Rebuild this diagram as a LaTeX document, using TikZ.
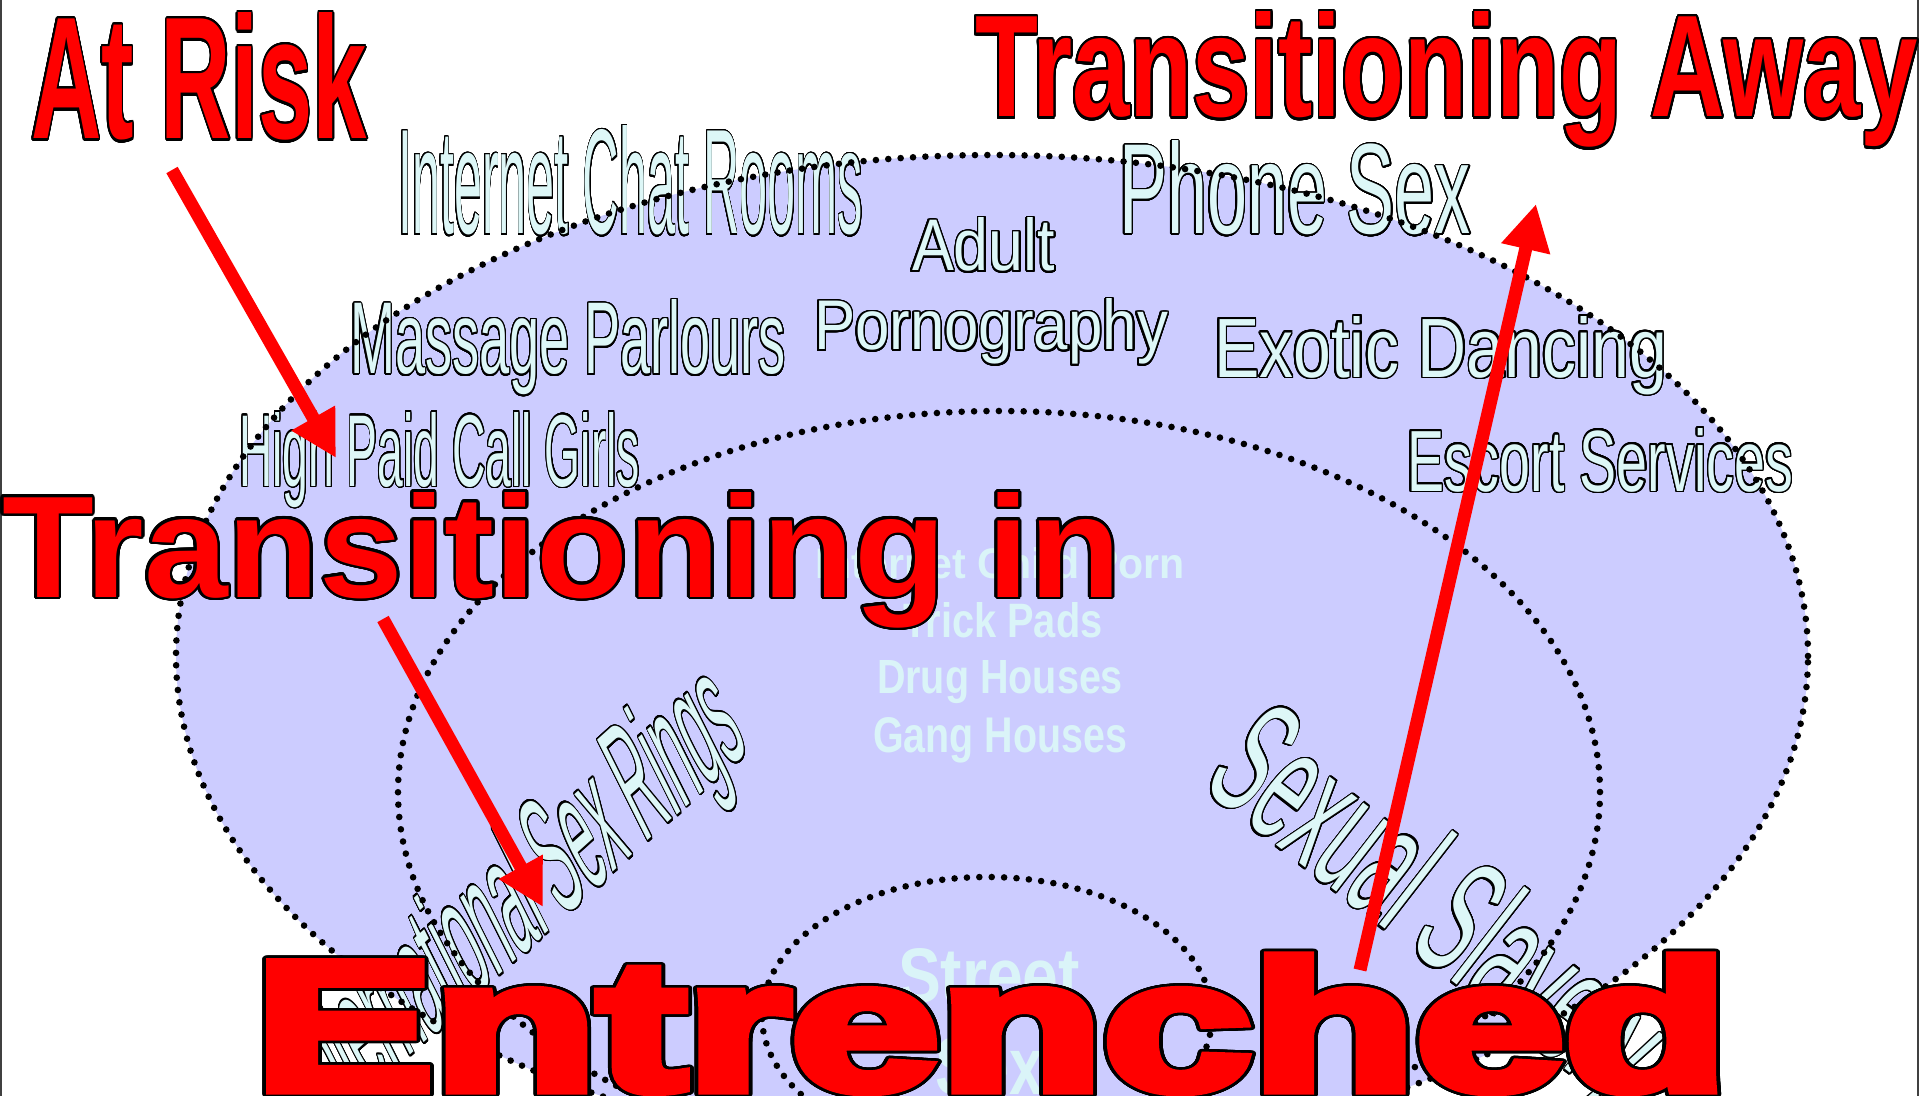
\documentclass[tikz,border=0pt]{standalone}
\usepackage{fontspec}
\setmainfont{Liberation Sans}
\newfontfamily\heavyfont{Liberation Sans Bold}[FakeBold=5]
\usepackage{contour}
\usepackage{graphicx}
\usetikzlibrary{arrows.meta}
\definecolor{lav}{RGB}{204,204,255}
\definecolor{cyn}{RGB}{221,247,247}
\definecolor{hidc}{RGB}{218,244,248}
\contournumber{32}
\newcommand{\fitt}[3]{\resizebox{#1}{#2}{#3}}
\newcommand{\ft}[1]{\fontsize{#1}{#1}\selectfont}
\newcommand{\redt}[1]{\textcolor{red}{\contourlength{1.3pt}\contour{black}{#1}}}
\newcommand{\cyt}[1]{\textcolor{cyn}{\contourlength{1pt}\contour{black}{#1}}}
\begin{document}
\begin{tikzpicture}[x=0.5pt,y=-0.5pt,
  tx/.style={anchor=base west,inner sep=0pt,outer sep=0pt},
  cx/.style={anchor=base,inner sep=0pt,outer sep=0pt},
  dotline/.style={line width=3.3pt,dash pattern=on 0pt off 6.2pt,line cap=round,black},
  redarrow/.style={line width=6.5pt,red,-{Triangle[length=23pt,width=23.5pt]}},
  edgeline/.style={line width=1pt,black!75}]
\useasboundingbox (0,0) rectangle (1920,1096);
\fill[white] (0,0) rectangle (1920,1096);
\fill[lav] (992,656) ellipse [x radius=408pt, y radius=250.5pt];
\draw[edgeline] (1,0) -- (1,1096);
\draw[edgeline] (1918,0) -- (1918,1096);

% outlined cyan labels
\node[tx] (chat) at (398,234) {\fitt{232.5pt}{54pt}{\ft{75}\cyt{Internet Chat Rooms}}};
\node[tx] (adult) at (912,271) {\fitt{71.5pt}{26.5pt}{\ft{37}\cyt{Adult}}};
\node[tx] (phone) at (1119,234) {\fitt{176pt}{46.5pt}{\ft{65}\cyt{Phone Sex}}};
\node[tx] (massage) at (350,374) {\fitt{218pt}{37pt}{\ft{52}\cyt{Massage Parlours}}};
\node[tx] (porn) at (814,350) {\fitt{177pt}{25.5pt}{\ft{36}\cyt{Pornography}}};
\node[tx] (exotic) at (1214,377) {\fitt{226.5pt}{30.5pt}{\ft{43}\cyt{Exotic Dancing}}};
\node[tx] (callgirls) at (239,486) {\fitt{200.5pt}{37pt}{\ft{52}\cyt{High Paid Call Girls}}};
\node[tx] (escort) at (1407,491) {\fitt{193pt}{31.5pt}{\ft{44}\cyt{Escort Services}}};

% hidden bold labels
\node[cx] (icp) at (1000,578) {\fitt{185pt}{15.5pt}{\ft{24}\bfseries\textcolor{hidc}{Internet Child Porn}}};
\node[cx] (trick) at (1003,637) {\fitt{99.5pt}{17.5pt}{\ft{24}\bfseries\textcolor{hidc}{Trick Pads}}};
\node[cx] (drug) at (1000,693) {\fitt{123pt}{16.5pt}{\ft{24}\bfseries\textcolor{hidc}{Drug Houses}}};
\node[cx] (gang) at (1000,752) {\fitt{127pt}{17.5pt}{\ft{24}\bfseries\textcolor{hidc}{Gang Houses}}};
\node[cx] (street) at (989,1002) {\fitt{91pt}{27pt}{\ft{38}\bfseries\textcolor{hidc}{Street}}};
\node[cx] (sex) at (989,1094) {\fitt{54pt}{28.5pt}{\ft{40}\bfseries\textcolor{hidc}{Sex}}};

% rotated labels
\begin{scope}[shift={(325,1132)},rotate=42,xslant=0.275]
\node[tx,transform shape] (rings) at (0,0) {\fitt{286pt}{57pt}{\ft{79}\cyt{International Sex Rings}}};
\end{scope}
\begin{scope}[shift={(1200,786)},rotate=-37.8]
\node[tx,transform shape] (slavery) at (0,0) {\fitt{261pt}{59.5pt}{\ft{83}\cyt{Sexual Slavery}}};
\end{scope}

% dotted ellipses
\draw[dotline] (992,656) ellipse [x radius=408pt, y radius=250.5pt];
\draw[dotline] (999,792) ellipse [x radius=300.5pt, y radius=190.5pt];
\draw[dotline] (987,1016) ellipse [x radius=112.5pt, y radius=69.5pt];

% arrows
\coordinate (a1s) at (172,170);
\coordinate (a1e) at (336,458);
\coordinate (a2s) at (383,619);
\coordinate (a2e) at (543,907);
\coordinate (a3s) at (1360,970);
\coordinate (a3e) at (1536,204);
\draw[redarrow] (a1s) -- (a1e);
\draw[redarrow] (a2s) -- (a2e);
\draw[redarrow] (a3s) -- (a3e);

% red titles
\node[tx] (atrisk) at (31,139) {\fitt{168pt}{63pt}{\ft{88}\bfseries\redt{At Risk}}};
\node[tx] (away) at (975,117) {\fitt{471.5pt}{52.5pt}{\ft{73}\bfseries\redt{Transitioning Away}}};
\node[tx] (tin) at (2,597) {\fitt{559.5pt}{52.5pt}{\ft{73}\bfseries\redt{Transitioning in}}};
\node[tx] (entr) at (255,1090) {\fitt{736.5pt}{67pt}{\ft{93}\heavyfont\redt{Entrenched}}};
\end{tikzpicture}
\end{document}
